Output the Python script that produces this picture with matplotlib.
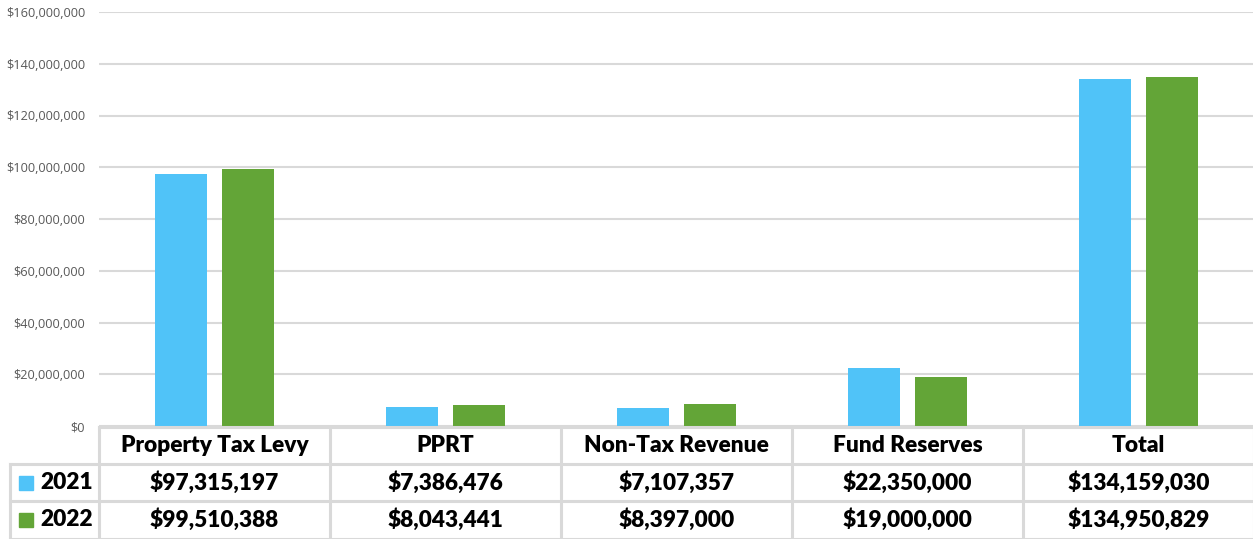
import matplotlib
matplotlib.use("Agg")
import matplotlib.pyplot as plt
from matplotlib.ticker import FuncFormatter
import numpy as np

categories = ["Property Tax Levy", "PPRT", "Non-Tax Revenue", "Fund Reserves", "Total"]
years = ["2021", "2022"]
values_2021 = [97315197, 7386476, 7107357, 22350000, 134159030]
values_2022 = [99510388, 8043441, 8397000, 19000000, 134950829]
colors = ["#50C3F8", "#63A537"]

W, H = 1253, 539
fig = plt.figure(figsize=(W / 100, H / 100), dpi=100)
x0, x1 = 99, 1254
ytop, ybot = 12, 426
ax = fig.add_axes([x0 / W, (H - ybot) / H, (x1 - x0) / W, (ybot - ytop) / H])

x = np.arange(len(categories))
bw = 0.225
off = 0.143
ax.bar(x - off, values_2021, bw, color=colors[0], zorder=3)
ax.bar(x + off, values_2022, bw, color=colors[1], zorder=3)
ax.set_xlim(-0.5, len(categories) - 0.5)
ax.set_ylim(0, 160e6)
ax.set_yticks(np.arange(0, 160e6 + 1, 20e6))
ax.yaxis.set_major_formatter(FuncFormatter(lambda v, p: "${:,.0f}".format(v)))
ax.tick_params(axis="y", length=0, pad=10, labelsize=9.2, labelcolor="#595959")
ax.tick_params(axis="x", length=0, labelbottom=False)
for s in ax.spines.values():
    s.set_visible(False)
ax.grid(axis="y", color="#d9d9d9", linewidth=1.5, zorder=0)
ax.set_axisbelow(True)
for lbl in ax.get_yticklabels():
    lbl.set_fontfamily("Open Sans")

# data table
tr = ax.get_xaxis_transform()
axh = ybot - ytop
def yf(py):
    return (ybot - py) / axh

line_kw = dict(color="#d9d9d9", linewidth=2.2, clip_on=False, transform=tr, zorder=5)
row_y = [427, 464, 501, 539]
left_px = 10
unit = (x1 - x0) / len(categories)
left_data = -0.5 - (x0 - left_px) / unit
ax.plot([-0.5, len(categories) - 0.5], [yf(427)] * 2, **line_kw)
for py in row_y[1:]:
    ax.plot([left_data, len(categories) - 0.5], [yf(py)] * 2, **line_kw)
for b in np.arange(-0.5, len(categories), 1.0):
    ax.plot([b, b], [yf(427), yf(539)], **line_kw)
ax.plot([left_data, left_data], [yf(464), yf(539)], **line_kw)

tfont = dict(fontfamily="Lato", fontweight="heavy", fontsize=16.3, color="black",
             ha="center", va="center", transform=tr, clip_on=False)
for i, c in enumerate(categories):
    ax.text(i, yf(445.5), c, **tfont)
    ax.text(i, yf(482.5), "${:,.0f}".format(values_2021[i]), **tfont)
    ax.text(i, yf(520), "${:,.0f}".format(values_2022[i]), **tfont)

for j, (yr, col) in enumerate(zip(years, colors)):
    cy = 482.5 if j == 0 else 520
    sq_l = -0.5 - (x0 - 19) / unit
    sq_w = 14 / unit
    ax.add_patch(plt.Rectangle((sq_l, yf(cy + 7)), sq_w, 14 / axh, color=col,
                               transform=tr, clip_on=False, zorder=6))
    ax.text(-0.5 - (x0 - 40) / unit, yf(cy), yr, fontfamily="Lato", fontweight="heavy",
            fontsize=16.3, ha="left", va="center", transform=tr, clip_on=False)

fig.savefig("out.png", dpi=100)
